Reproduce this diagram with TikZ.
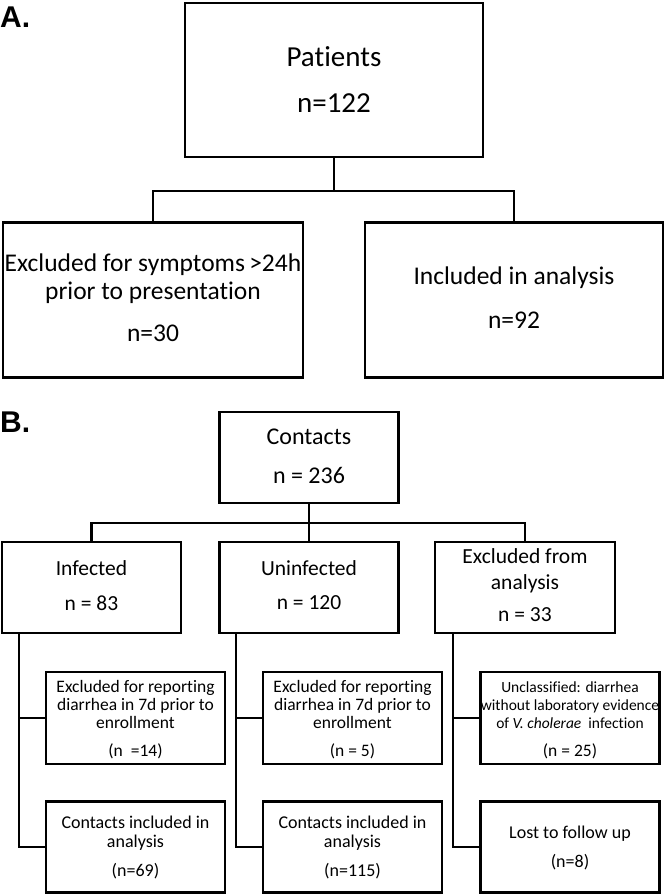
\documentclass[tikz,border=0pt]{standalone}
\usepackage{fontspec}
\setmainfont{Carlito}[Ligatures=NoCommon]
\newfontfamily\panelfont{Liberation Sans}
\begin{document}
\begin{tikzpicture}[x=1pt,y=-1pt,
  box/.style={draw=black,line width=2.6pt,inner sep=0pt,outer sep=0pt,fill=white},
  conn/.style={draw=black,line width=2.6pt,line cap=rect},
  txt/.style={inner sep=0pt,align=center,text=black},
  fA/.style={font=\fontsize{29}{35}\selectfont},
  fAs/.style={font=\fontsize{25.5}{28}\selectfont},
  fB/.style={font=\fontsize{24}{28}\selectfont},
  fBr/.style={font=\fontsize{21.5}{26}\selectfont},
  fR/.style={font=\fontsize{17.5}{18}\selectfont},
  fRs/.style={font=\fontsize{15.5}{18}\selectfont},
  fR4/.style={font=\fontsize{18}{19.5}\selectfont},
  plabel/.style={inner sep=0pt,font=\panelfont\bfseries\fontsize{30}{34}\selectfont}]
\useasboundingbox[fill=white] (0,0) rectangle (666,895);

% ---------- Panel A ----------
\node[plabel,anchor=west] (labA) at (0,17) {A.};
\node[box,minimum width=298pt,minimum height=154pt] (pat) at (334,80) {};
\node[box,minimum width=300pt,minimum height=155pt] (exA) at (153,300) {};
\node[box,minimum width=298pt,minimum height=155pt] (inA) at (514,300) {};
\coordinate (jA) at (334,191);
\draw[conn] (pat.south) -- (jA);
\draw[conn] (exA.north) |- (jA) -| (inA.north);

\node[txt,fA] (tpat) at (334,57) {Patients};
\node[txt,fA] (tpatn) at (334,103) {n=122};
\node[txt,fAs] (texA) at (153,279) {Excluded for symptoms\,>24h\\prior to presentation};
\node[txt,fAs] (texAn) at (153,333) {n=30};
\node[txt,fAs] (tinA) at (514,278) {Included in analysis};
\node[txt,fAs] (tinAn) at (514,320) {n=92};

% ---------- Panel B ----------
\node[plabel,anchor=west] (labB) at (0,422) {B.};
\node[box,minimum width=179pt,minimum height=91pt] (con) at (309,457.5) {};
\node[box,minimum width=179pt,minimum height=91pt] (inf) at (91.5,587.5) {};
\node[box,minimum width=179pt,minimum height=91pt] (uninf) at (309,587.5) {};
\node[box,minimum width=180pt,minimum height=91pt] (excl) at (525,587.5) {};
\coordinate (jB) at (309,523);
\draw[conn] (con.south) -- (uninf.north);
\draw[conn] (inf.north) |- (jB) -| (excl.north);

\node[txt,fB] (tcon) at (309,437) {Contacts};
\node[txt,fB] (tconn) at (309,475) {n = 236};
\node[txt,fBr] (tinf) at (91.5,568) {Infected};
\node[txt,fBr] (tinfn) at (91.5,603) {n = 83};
\node[txt,fBr] (tun) at (309,568) {Uninfected};
\node[txt,fBr] (tunn) at (309,603) {n = 120};
\node[txt,fBr] (tex) at (525,571) {Excluded from\\analysis};
\node[txt,fBr] (texn) at (525,615) {n = 33};

% rows 3 and 4
\node[box,minimum width=179pt,minimum height=92pt] (r31) at (135.5,718) {};
\node[box,minimum width=179pt,minimum height=92pt] (r32) at (352.5,718) {};
\node[box,minimum width=179pt,minimum height=92pt] (r33) at (570,718) {};
\node[box,minimum width=179pt,minimum height=91pt] (r41) at (135.5,847) {};
\node[box,minimum width=179pt,minimum height=91pt] (r42) at (352.5,847) {};
\node[box,minimum width=179pt,minimum height=91pt] (r43) at (570,847) {};

\coordinate (v1) at (19,633);
\coordinate (v2) at (236,633);
\coordinate (v3) at (453,633);
\draw[conn] (v1) |- (r41.west);
\draw[conn] (v1) |- (r31.west);
\draw[conn] (v2) |- (r42.west);
\draw[conn] (v2) |- (r32.west);
\draw[conn] (v3) |- (r43.west);
\draw[conn] (v3) |- (r33.west);

\node[txt,fR] (t31) at (135.5,704) {Excluded for reporting\\diarrhea in 7d prior to\\enrollment};
\node[txt,fR] (t31n) at (135.5,751) {(n\ \ =14)};
\node[txt,fR] (t32) at (352.5,704) {Excluded for reporting\\diarrhea in 7d prior to\\enrollment};
\node[txt,fR] (t32n) at (352.5,751) {(n = 5)};
\node[txt,fRs] (t33) at (570,705) {Unclassified: diarrhea\\without\ laboratory evidence\\of \textit{V. cholerae}\ \ infection};
\node[txt,fR] (t33n) at (570,751) {(n = 25)};

\node[txt,fR4] (t41) at (135.5,833) {Contacts included in\\analysis};
\node[txt,fR4] (t41n) at (135.5,871) {(n=69)};
\node[txt,fR4] (t42) at (352.5,833) {Contacts included in\\analysis};
\node[txt,fR4] (t42n) at (352.5,871) {(n=115)};
\node[txt,fR4] (t43) at (570,834) {Lost to follow up};
\node[txt,fR4] (t43n) at (570,862) {(n=8)};
\end{tikzpicture}
\end{document}
